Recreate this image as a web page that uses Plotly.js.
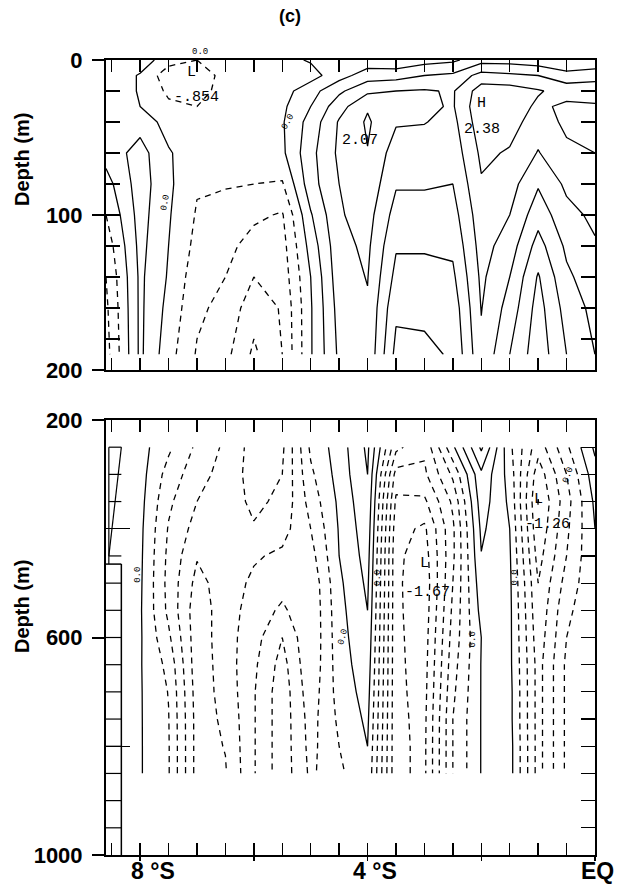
<!DOCTYPE html>
<html><head><meta charset="utf-8">
<script src="https://cdn.plot.ly/plotly-3.0.1.min.js"></script>
<style>body{margin:0;background:#fff}#plot{width:617px;height:887px}</style>
</head><body><div id="plot"></div>
<script>
// ---------- DATA ----------
var lat = [-8.6,-8,-7.5,-7,-6.5,-6,-5.5,-5,-4.5,-4,-3.5,-3,-2.5,-2,-1.5,-1,-0.5,0];
var depthTop = [0,10,20,30,40,60,80,100,120,140,160,190];
// columns: one array per latitude, values at depthTop
var topCols = [
 [0.4,0.4,0.4,0.4,0.4,0.2,-0.2,-0.5,-0.8,-1.0,-1.1,-1.2],
 [0.3,-0.05,-0.05,0.0,0.3,0.7,0.75,0.7,0.65,0.6,0.6,0.6],
 [-0.3,-0.8,-0.6,-0.4,-0.2,0.05,0.1,0.05,0.0,-0.05,-0.15,-0.3],
 [-0.5,-0.85,-0.7,-0.5,-0.35,-0.3,-0.45,-0.55,-0.65,-0.8,-0.9,-1.05],
 [-0.2,-0.3,-0.3,-0.25,-0.2,-0.25,-0.47,-0.65,-0.85,-1.0,-1.15,-1.35],
 [-0.2,-0.2,-0.2,-0.2,-0.2,-0.3,-0.5,-0.9,-1.2,-1.5,-1.8,-2.1],
 [-0.15,-0.3,-0.2,-0.1,-0.05,-0.1,-0.55,-1.05,-1.2,-1.3,-1.45,-1.5],
 [0.05,-0.2,0.3,0.5,0.7,0.85,0.8,0.45,0.2,0.0,-0.05,-0.05],
 [0.1,0.3,0.9,1.3,1.55,1.6,1.5,1.45,1.35,1.3,1.2,1.1],
 [0.2,0.75,1.4,1.95,2.07,1.98,1.85,1.7,1.6,1.52,1.45,1.4],
 [0.1,0.8,1.5,1.7,1.55,1.25,1.05,0.8,0.55,0.35,0.1,-0.15],
 [0.3,1.0,1.55,1.6,1.52,1.25,1.05,0.8,0.55,0.35,0.1,-0.1],
 [0.4,1.1,1.45,1.45,1.35,1.2,1.0,0.8,0.6,0.4,0.2,0.05],
 [0.8,1.7,2.25,2.38,2.3,2.1,1.95,1.8,1.7,1.6,1.52,1.4],
 [0.8,1.6,2.25,2.3,2.2,1.95,1.7,1.5,1.25,1.0,0.8,0.5],
 [0.7,1.5,2.05,1.9,1.75,1.47,1.05,0.7,0.3,-0.05,-0.2,-0.3],
 [0.5,1.2,1.8,2.1,2.1,1.9,1.6,1.35,1.1,0.9,0.7,0.5],
 [0.6,1.3,1.8,2.05,2.15,2.0,1.8,1.6,1.45,1.3,1.15,1.0]
];
var depthBot = [250,300,350,400,450,500,550,600,650,700,750,800,850];
var botCols = [
 [0.1,0.1,0.1,0.1,0.1,null,null,null,null,null,null,null,null],
 [0.1,0.1,0.08,0.06,0.05,0.04,0.03,0.03,0.02,0.02,0.02,0.02,0.02],
 [-0.2,-0.35,-0.45,-0.52,-0.56,-0.58,-0.56,-0.45,-0.32,-0.26,-0.24,-0.23,-0.23],
 [-0.55,-0.65,-0.75,-0.85,-0.98,-1.08,-1.15,-1.15,-1.15,-1.12,-1.1,-1.1,-1.1],
 [-0.8,-0.85,-0.88,-0.9,-0.9,-0.88,-0.86,-0.86,-0.88,-0.92,-0.96,-0.99,-1.02],
 [-1.1,-1.1,-1.05,-0.98,-0.78,-0.7,-0.65,-0.6,-0.55,-0.52,-0.52,-0.52,-0.52],
 [-1.05,-1.0,-0.95,-0.85,-0.7,-0.6,-0.45,-0.25,-0.15,-0.1,-0.1,-0.1,-0.1],
 [-0.2,-0.3,-0.4,-0.5,-0.6,-0.7,-0.72,-0.72,-0.7,-0.65,-0.6,-0.58,-0.55],
 [0.12,0.1,0.05,0.02,0.0,-0.05,-0.08,-0.1,-0.12,-0.15,-0.2,-0.25,-0.3],
 [0.55,0.5,0.45,0.4,0.35,0.3,0.25,0.2,0.15,0.1,0.05,0.0,-0.05],
 [-0.68,-1.1,-1.3,-1.4,-1.45,-1.45,-1.45,-1.45,-1.45,-1.45,-1.45,-1.45,-1.45],
 [-0.95,-1.05,-1.3,-1.55,-1.62,-1.67,-1.65,-1.62,-1.6,-1.58,-1.56,-1.55,-1.55],
 [-0.05,-0.45,-0.7,-0.8,-0.8,-0.75,-0.7,-0.65,-0.6,-0.55,-0.5,-0.5,-0.5],
 [0.8,0.45,0.38,0.3,0.24,0.15,0.08,0.0,0.01,0.01,0.01,0.01,0.01],
 [-0.19,-0.1,-0.05,0.0,0.03,0.05,0.06,0.06,0.06,0.08,0.08,0.1,0.1],
 [-0.9,-1.15,-1.26,-1.2,-1.1,-1.0,-0.95,-0.9,-0.85,-0.85,-0.85,-0.85,-0.85],
 [-0.3,-0.5,-0.6,-0.55,-0.5,-0.4,-0.3,-0.25,-0.2,-0.2,-0.2,-0.2,-0.2],
 [0.3,0.15,0.05,0.0,-0.02,-0.05,-0.08,-0.1,-0.1,-0.1,-0.1,-0.1,-0.1]
];
var xTickVals = [-8,-6,-4,-2,0];
var xLabelVals = [-8,-4,0];
var xLabelText = ['<b>8 °S</b>','<b>4 °S</b>','<b>EQ</b>'];
var topTickVals = [0,100,200];
var topTickText = ['<b>0</b>','<b>100</b>','<b>200</b>'];
var botTickVals = [200,600,1000];
var botTickText = ['<b>200</b>','<b>600</b>','<b>1000</b>'];
var topLevels = [20,40,60,80,100,120,140,160,180];
var botLevels = [250,300,350,400,450,500,550,600,650,700,750,800,850,900,950];

// ---------- BUILD ----------
function toRows(cols, nrow){var z=[];for(var r=0;r<nrow;r++){var row=[];for(var c=0;c<cols.length;c++)row.push(cols[c][r]);z.push(row);}return z;}
var zTop = toRows(topCols, depthTop.length);
var zBot = toRows(botCols, depthBot.length);
var halfTicks=[];for(var v=-8.5;v<=0.001;v+=0.5)halfTicks.push(+v.toFixed(2));

function cont(z,y,xa,ya,start,end,size,dash){
  return {type:'contour',x:lat,y:y,z:z,xaxis:xa,yaxis:ya,autocontour:false,
    contours:{start:start,end:end,size:size,coloring:'none'},
    line:{color:'#000',width:1.3,dash:dash,smoothing:0},showscale:false,hoverinfo:'skip'};
}
var data=[
  cont(zTop,depthTop,'x','y',-3,-0.5,0.5,'6px,5px'),
  cont(zTop,depthTop,'x','y',0,3,0.5,'solid'),
  cont(zBot,depthBot,'x2','y2',-3,-0.25,0.25,'6px,5px'),
  cont(zBot,depthBot,'x2','y2',0,3,0.25,'solid'),
  {type:'scatter',x:[-1],y:[300],xaxis:'x3',yaxis:'y2',mode:'markers',marker:{opacity:0},hoverinfo:'skip',showlegend:false},
  {type:'scatter',x:[-1],y:[100],xaxis:'x',yaxis:'y3',mode:'markers',marker:{opacity:0},hoverinfo:'skip',showlegend:false},
  {type:'scatter',x:[-1],y:[300],xaxis:'x2',yaxis:'y4',mode:'markers',marker:{opacity:0},hoverinfo:'skip',showlegend:false}
];
var xd=[106/617,595/617];
var yTopD=[1-370/887,1-60/887], yBotD=[1-855/887,1-420/887];
var tf={family:'Liberation Sans, Arial, sans-serif',size:22,color:'#000'};
var xf={family:'Liberation Sans, Arial, sans-serif',size:23,color:'#000'};
var lf={family:'Liberation Mono, DejaVu Sans Mono, monospace',size:15,color:'#000'};
var sf={family:'Liberation Mono, monospace',size:9,color:'#000'};
var ttf={family:'Liberation Sans, Arial, sans-serif',size:20,color:'#000'};
function ann(t,x,y,xr,yr,f,ang){return {text:t,x:x,y:y,xref:xr,yref:yr,showarrow:false,font:f,textangle:ang||0,xanchor:'center',yanchor:'middle',bgcolor:'rgba(0,0,0,0)'};}
var anns=[
    ann('<b>Depth (m)</b>',22/617,1-160/887,'paper','paper',ttf,-90),
    ann('<b>Depth (m)</b>',22/617,1-607/887,'paper','paper',ttf,-90),
    ann('L',-7.1,8,'x','y',lf), ann('-.854',-7.0,24,'x','y',lf),
    ann('0.0',200/617,1-52/887,'paper','paper',sf), ann('0.0',-7.56,92,'x','y',sf,-80), ann('0.0',-5.4,40,'x','y',sf,-60),
    ann('2.07',-4.13,52,'x','y',lf), ann('H',-2.0,28,'x','y',lf), ann('2.38',-1.98,45,'x','y',lf),
    ann('0.0',-8.04,485,'x2','y2',sf,-90), ann('0.0',-4.43,599,'x2','y2',sf,-75), ann('0.0',-3.83,490,'x2','y2',sf,-90),
    ann('L',-2.99,463,'x2','y2',lf), ann('-1.67',-2.95,518,'x2','y2',lf),
    ann('0.0',-2.15,604,'x2','y2',sf,-90), ann('0.0',-1.41,490,'x2','y2',sf,-90),
    ann('L',-1.0,347,'x2','y2',lf), ann('-1.26',-0.84,393,'x2','y2',lf), ann('0.0',-0.47,301,'x2','y2',sf,-70)
];
var xShifts=[13,7,2];
xLabelVals.forEach(function(v,i){var a=ann(xLabelText[i],v,1-871/887,'x3','paper',xf);a.xshift=xShifts[i];anns.push(a);});
var layout={
  width:617,height:887,margin:{l:0,r:0,t:0,b:0},paper_bgcolor:'#fff',plot_bgcolor:'#fff',showlegend:false,
  font:{family:'Liberation Sans, Arial, sans-serif',color:'#000'},
  title:{text:'<b>(c)</b>',x:0.47,xanchor:'center',y:0.982,yanchor:'middle',font:{size:18,family:'Liberation Sans, Arial',color:'#000'}},
  xaxis:{domain:xd,anchor:'y',range:[-8.6,0],showgrid:false,zeroline:false,showline:true,linecolor:'#000',linewidth:2,mirror:'ticks',
    tickvals:halfTicks,ticks:'inside',ticklen:12,tickwidth:1.5,tickcolor:'#000',showticklabels:false},
  yaxis:{domain:yTopD,anchor:'x',range:[200,0],showgrid:false,zeroline:false,showline:true,linecolor:'#000',linewidth:2,mirror:true,
    tickvals:topTickVals,ticktext:topTickText,ticks:'outside',ticklen:12,tickwidth:2,tickcolor:'#000',tickfont:tf,ticklabelstandoff:5,
    minor:{tickvals:topLevels,ticks:'inside',ticklen:14,tickwidth:1.2,tickcolor:'#000'}},
  yaxis3:{overlaying:'y',side:'right',anchor:'x',range:[200,0],showgrid:false,zeroline:false,showline:false,
    tickvals:topLevels,ticks:'inside',ticklen:14,tickwidth:1.2,tickcolor:'#000',showticklabels:false},
  xaxis2:{domain:xd,anchor:'y2',range:[-8.6,0],showgrid:false,zeroline:false,showline:true,linecolor:'#000',linewidth:2,mirror:'ticks',
    tickvals:halfTicks,ticks:'inside',ticklen:12,tickwidth:1.5,tickcolor:'#000',showticklabels:false},
  xaxis3:{overlaying:'x2',anchor:'y2',side:'bottom',range:[-8.6,0],showgrid:false,zeroline:false,showline:false,
    tickvals:xTickVals,ticks:'outside',ticklen:5,tickwidth:1.5,tickcolor:'#000',showticklabels:false},
  yaxis2:{domain:yBotD,anchor:'x2',range:[1000,200],showgrid:false,zeroline:false,showline:true,linecolor:'#000',linewidth:2,mirror:true,
    tickvals:botTickVals,ticktext:botTickText,ticks:'outside',ticklen:12,tickwidth:2,tickcolor:'#000',tickfont:tf,ticklabelstandoff:5,
    minor:{tickvals:[400,800],ticks:'inside',ticklen:24,tickwidth:1.2,tickcolor:'#000'}},
  yaxis4:{overlaying:'y2',side:'right',anchor:'x2',range:[1000,200],showgrid:false,zeroline:false,showline:false,
    tickvals:botLevels,ticks:'inside',ticklen:14,tickwidth:1.2,tickcolor:'#000',showticklabels:false},
  shapes:[
    {type:'line',xref:'x2',yref:'y2',x0:-8.33,x1:-8.33,y0:465,y1:1000,line:{color:'#000',width:1.5}},
    {type:'line',xref:'x2',yref:'y2',x0:-8.6,x1:-8.33,y0:465,y1:465,line:{color:'#000',width:1.5}},
    {type:'line',xref:'x2',yref:'y2',x0:-8.33,x1:-8.55,y0:250,y1:450,line:{color:'#000',width:1.2}},
    {type:'line',xref:'x2',yref:'y2',x0:-8.55,x1:-8.55,y0:250,y1:465,line:{color:'#000',width:1.2}}
  ].concat([250,300,350,450].map(function(d){return {type:'line',xref:'x2',yref:'y2',x0:-8.55,x1:-8.33,y0:d,y1:d,line:{color:'#000',width:1.2}};}))
   .concat([500,550,600,650,700,750,800,850,900,950].map(function(d){return {type:'line',xref:'x2',yref:'y2',x0:-8.6,x1:-8.33,y0:d,y1:d,line:{color:'#000',width:1.2}};})),
  annotations:anns
};
Plotly.newPlot('plot',data,layout,{staticPlot:true});
</script></body></html>
